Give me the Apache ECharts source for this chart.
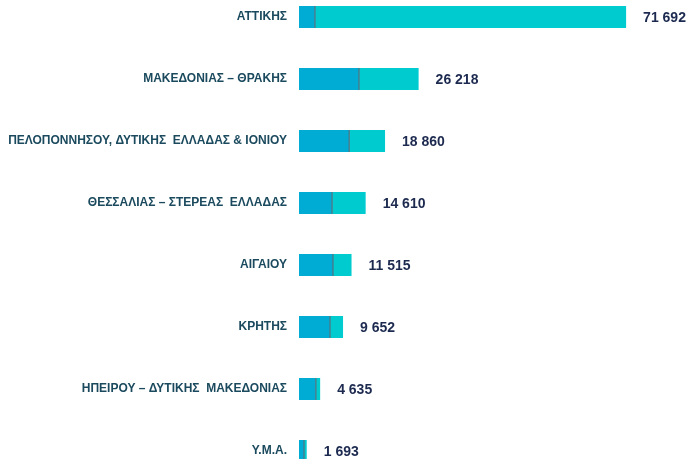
<!DOCTYPE html>
<html>
<head>
<meta charset="utf-8">
<script src="https://cdn.jsdelivr.net/npm/echarts@6/dist/echarts.min.js"></script>
<style>
  html, body { margin: 0; padding: 0; background: #fff; overflow: hidden; width: 687px; height: 459px; position: relative; }
  #chart { position: absolute; left: 0; top: -14px; width: 687px; height: 496px; }
</style>
</head>
<body>
<div id="chart"></div>
<script>
const categories = [
  'ΑΤΤΙΚΗΣ',
  'ΜΑΚΕΔΟΝΙΑΣ – ΘΡΑΚΗΣ',
  'ΠΕΛΟΠΟΝΝΗΣΟΥ, ΔΥΤΙΚΗΣ  ΕΛΛΑΔΑΣ & ΙΟΝΙΟΥ',
  'ΘΕΣΣΑΛΙΑΣ – ΣΤΕΡΕΑΣ  ΕΛΛΑΔΑΣ',
  'ΑΙΓΑΙΟΥ',
  'ΚΡΗΤΗΣ',
  'ΗΠΕΙΡΟΥ – ΔΥΤΙΚΗΣ  ΜΑΚΕΔΟΝΙΑΣ',
  'Υ.Μ.Α.'
];
const totals = [71692, 26218, 18860, 14610, 11515, 9652, 4635, 1693];
const firstPart = [3500, 13150, 11000, 7250, 7450, 6800, 3700, 1100];
const secondPart = [68192, 13068, 7860, 7360, 4065, 2852, 935, 593];

const chart = echarts.init(document.getElementById('chart'));

const fmt = v => String(v).replace(/\B(?=(\d{3})+(?!\d))/g, ' ');

chart.setOption({
  animation: false,
  grid: { left: 299, right: 23, top: 0, bottom: 0 },
  xAxis: {
    type: 'value', min: 0, max: 80000, show: false
  },
  yAxis: {
    type: 'category',
    data: categories,
    inverse: true,
    axisLine: { show: false },
    axisTick: { show: false },
    splitLine: { show: false },
    axisLabel: {
      margin: 12,
      color: '#1b4a5e',
      fontFamily: 'Liberation Sans',
      fontWeight: 'bold',
      fontSize: 12
    }
  },
  series: [
    {
      type: 'bar', stack: 'total', barWidth: 22,
      data: firstPart,
      itemStyle: { color: '#00acd4' }
    },
    {
      type: 'bar', stack: 'total', barWidth: 22,
      data: secondPart,
      itemStyle: { color: '#00ccd0' },
      label: {
        show: true, position: 'right', distance: 17,
        offset: [0, 1],
        formatter: p => fmt(totals[p.dataIndex]),
        color: '#1d2a50',
        fontFamily: 'Liberation Sans',
        fontWeight: 'bold',
        fontSize: 14
      }
    },
    {
      type: 'custom',
      data: firstPart.map((v, i) => [v, i]),
      renderItem: (params, api) => {
        const p = api.coord([api.value(0), api.value(1)]);
        return {
          type: 'line',
          shape: { x1: p[0], y1: p[1] - 11, x2: p[0], y2: p[1] + 11 },
          style: { stroke: '#56707e', lineWidth: 1.2 }
        };
      },
      silent: true, z: 5
    }
  ]
});
</script>
</body>
</html>
